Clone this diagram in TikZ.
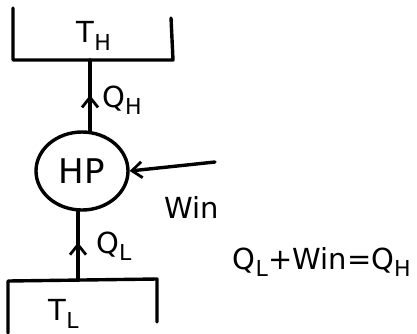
\documentclass[tikz,border=0pt]{standalone}
\usepackage{fontspec}
\setmainfont{DejaVu Sans}
\usetikzlibrary{arrows.meta,shapes.geometric,calc}
\newcommand{\sbs}[1]{\textsubscript{\fontsize{22}{22}\selectfont #1}}
\begin{document}
\begin{tikzpicture}[x=1pt,y=-1pt,
  ln/.style={line width=3.4pt,line cap=round,line join=round},
  arr/.style={ln,-{Straight Barb[length=10pt,width=16pt,line width=2.8pt]}},
  lbl/.style={font=\fontsize{29}{29}\selectfont,inner sep=0pt}]
\useasboundingbox (0,0) rectangle (417,333);
% top reservoir
\draw[ln] (13,8) -- (13,60) -- (173,60) -- (171,18);
\node[lbl] (th) at (94,36) {T\sbs{H}};
\coordinate (topb) at (90,60);
% heat pump
\node[draw,line width=3.4pt,ellipse,minimum width=92pt,minimum height=78pt,inner sep=0pt,font=\fontsize{34}{34}\selectfont] (hp) at (82,171) {HP};
\draw[ln] (topb |- hp.north) -- (topb);
\draw[arr] (topb |- hp.north) -- ($(topb |- hp.north)!0.5!(topb)$);
\node[lbl,anchor=west] (qh) at (102,100) {Q\sbs{H}};
% work
\coordinate (wstart) at (215,162);
\draw[arr] (wstart) -- (hp.east);
\node[lbl] (win) at (192,207) {Win};
% bottom reservoir
\draw[ln] (8,333) -- (8,281) -- (157,279) -- (157,322);
\node[lbl] (tl) at (64,314) {T\sbs{L}};
\coordinate (botb) at (78,280);
\draw[ln] (botb) -- (botb |- hp.south);
\draw[arr] (botb) -- ($(botb)!0.55!(botb |- hp.south)$);
\node[lbl,anchor=west] (ql) at (96,246) {Q\sbs{L}};
% equation
\node[lbl] (eq) at (322,262) {Q\sbs{L}+Win=Q\sbs{H}};
\end{tikzpicture}
\end{document}
